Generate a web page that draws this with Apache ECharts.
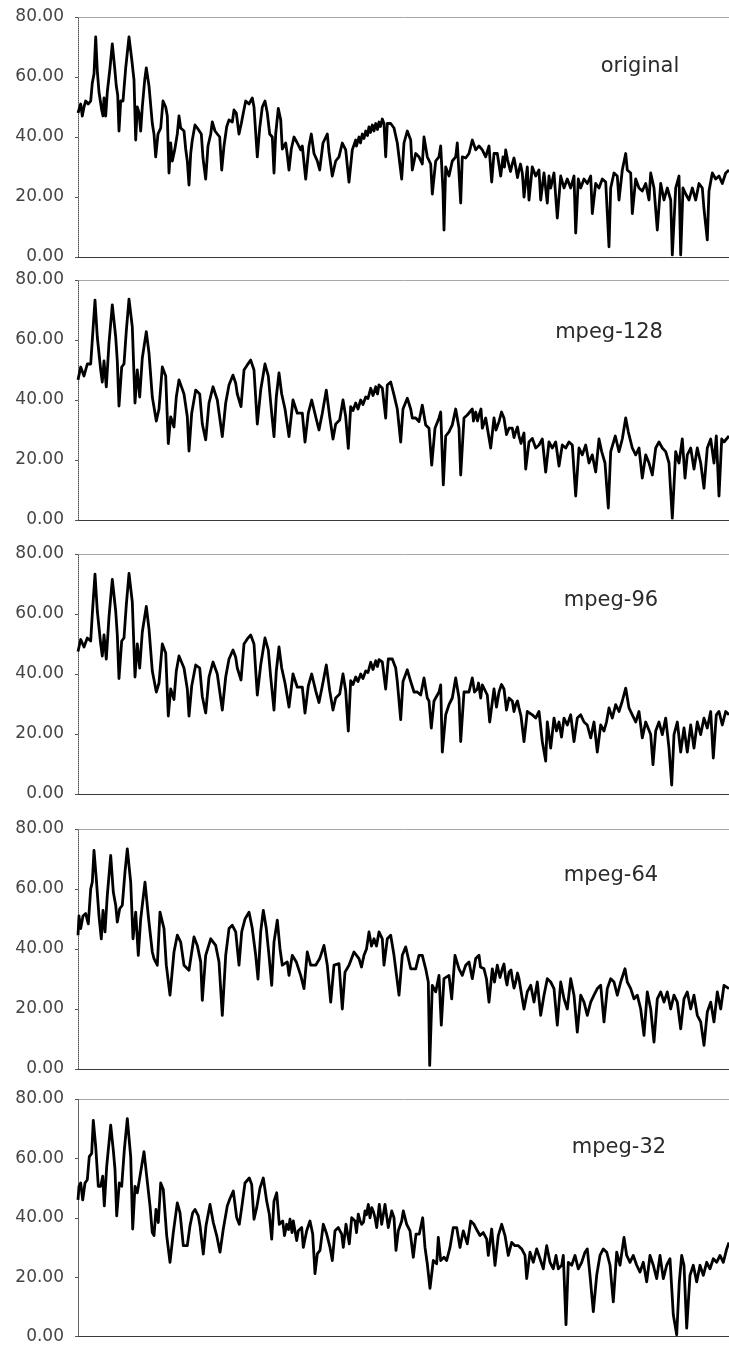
<!DOCTYPE html>
<html>
<head>
<meta charset="utf-8">
<script src="https://cdn.jsdelivr.net/npm/echarts@6/dist/echarts.min.js"></script>
<style>
html,body{margin:0;padding:0;background:#fff;}
#chart{width:729px;height:1345px;}
</style>
</head>
<body>
<div id="chart"></div>
<script>
// panel names
const panelNames = ['original', 'mpeg-128', 'mpeg-96', 'mpeg-64', 'mpeg-32'];
const yTicks = [0, 20, 40, 60, 80];

// ---- original ----
const binsOriginal = [0,2.7,4.3,6,7.7,10.3,12.7,14.3,16,17.7,19.3,21,23.7,25,26,27.7,29.3,32,34.3,36.7,38.3,39.7,41,42.7,45,47.7,51,53.7,56,57.7,59.3,61,62.7,64.3,66.7,68.3,71,74.3,76,77.7,80,82.7,85,87.7,89.3,91,92.7,94.3,96.7,99.3,101,102.7,106,107.7,109.3,111,112.7,114.3,117,119.3,121,123.3,125,127.7,130,132.7,134.3,137,139.3,141.7,143.7,146,148.7,151,154.3,156,158.3,161,163.3,165.3,167.7,171,174.3,176,179.3,181.7,184.3,187,189.3,191.7,194.3,196,197.7,200.3,202.7,204.3,207.7,209.3,211,213.3,216,219.3,222.7,224.3,227.7,231,233.3,236,239.3,241.7,245,249.3,251,254.3,257.7,261,264.3,267.7,271,274.3,277.7,281,284.3,287.7,291,294.3,297.7,301,304.3,307.7,309.3,312.7,316,319.3,321,323.7,326,329.3,332.7,334.3,337.7,341,344.3,346,349.3,352.7,354.3,357.7,361,362.7,365,366,367.7,371,374.3,377.7,379.3,382.7,384.3,387.7,391,394.3,397.7,401,404.3,407.7,411,413.7,416,419.3,422.7,425,427.7,431,434.3,437.7,441,444.3,446,449.3,451,454.3,457.7,461,462.7,466,469.3,471,472.7,476,479.3,482.7,486,489.3,492.7,496,497.7,500.3,502.7,506,509.3,512.7,514.3,517.7,521,524.3,527.7,531,532.7,536,539.3,541,544.3,547.7,549.3,552.7,554.3,557.7,561,564.3,567.7,571,572.7,576,579.3,582.7,586,589.3,592.7,594.3,597.7,601,602.7,605,607.7,611,614.3,617.7,621,624.3,626,629.3,631,634.3,637.7,641,644.3,647.7,651];
const valsOriginal = [48,51,47,50,52,51,52,58,61,73.4,62,55,49,47,53,47,55,63,71,63,57,54,42,52,52,63,73.4,66,59,39,50,48,42,50,59,63,57,44.5,41,33.4,41,43,52,50,47,28,38,32,35.7,41,47,43,42,36,32,24,34.5,39,44,43,43,41,33,26,37,41,45,42,41,40,29,37,43.4,45.7,45,49,48,41,44.5,48,52,51,53,50,33.4,43,50,52,48,41,40,28,41,49.5,45.7,36,38,34,29,36,40,38,35.7,37,26,37,41,34.5,32,29,38,41,35,27,32,33.4,38,35.7,25,35.7,39,40,41,42,43.4,44,44.5,45,46,33.4,44.5,44.5,43,38,38,26,38,42,39,29,34.5,33.4,31,40,33.4,31,21,32,33.4,37,22,9,30,27,32,33.4,38,18,33.4,33,34.5,39,35.7,37,35.7,33.4,37,25,34.5,34.5,27,33.4,35.7,32,31,30,29,28,20,30,19,30,27,29,19,28,18,27,23,28,13,27,23,26,23,27,8,26,23,26,24.5,27,14.5,24.5,23,26,25,3.4,23,28,27,19,29,34.5,29,28,14.5,26,23,22,24.5,19,28,23,9,24.5,19,23,19,0.7,23,27,0.7,23,21,19,23,19,24.5,23,16,5.7,22,28,26,27,24.5,28,29];
// lower edge of the noisy band, read where the trace is thick
const binsOriginalBand = [278.5,282.5,286,289.5,292.5,296,299.5,302.5,306,426.5,429.5,432.5,436,439.5,442.5,445];
const valsOriginalBand = [37,38,39.5,40.5,41.5,42,42.5,43.5,44.5,30,32.5,28.5,33,26.5,31,25];

// ---- mpeg-128 ----
const binsMpeg128 = [0,2.7,6,9.3,12.7,14.3,17,19.3,22.7,24.3,26,28.3,31,34.3,37.7,39.3,41,43.7,46,48.3,51,54.3,57,59.3,61.7,64.3,68.3,71,74.3,78.3,81,84.3,87.7,90.3,92.7,96,98.3,101,106,109.3,111,113.7,117.7,121.7,124.3,127.7,131,135,139.3,144.3,147.7,151,155,157.7,159.3,163,166,169.3,172.7,176,179.3,182.7,187,190.3,192.7,196,198.3,201,203.7,207,211,215,219.3,224.3,227,230.3,233.7,237.7,241,244.3,248.3,251.7,255,257.7,261.7,265,267.7,270.3,272.7,277.7,282.7,287.7,292.7,297.7,301,304.3,307.7,309.3,312.7,316,319.3,322.7,325,329.3,332.7,334.3,337.7,341,344.3,347.7,351,353.7,357,361,362.7,365.3,367.7,371,374.3,377.7,381,382.7,386,389.3,394.3,397.7,401,404.3,407.7,412.7,416,421,426,431,434.3,437.7,441,444.3,447.7,451,454.3,457.7,461,464.3,467.7,471,474.3,477.7,481,484.3,487.7,491,494.3,497.7,501,504.3,507.7,511,514.3,517.7,521,523.7,527,530.3,532.7,537.3,541,544.3,547.7,550.3,554.3,557.7,561,564.3,567.7,571,574.3,577.7,581,584.3,587.7,591,594.3,597.7,601,604.3,607,609.3,612.7,616,619.3,622.7,626,629.3,632.7,636,638.3,641,643.7,646,651];
const valsMpeg128 = [46.7,51,48,52,52,60,73.3,61,50,46,53,44.4,59,71.7,61,53,38,51,52,63,73.6,64.4,39,50,41,54,62.8,55.6,41,33,37,51,48,25.5,34.4,31,41,46.7,42,34.4,23,35.6,43.3,42,32,26.7,39,44.4,40,27.8,39,45,48.3,45.6,42,37.8,50,51.7,53.3,50,32,43.3,52,48,39,27.8,41,49,42,37,27.8,40,35.6,35.6,26,35.6,40,34.4,30,35.6,43.3,34.4,27,32,33.3,40,34.4,23.9,37.8,39,40,41,43.9,44.4,45,44,34,45,46,41.7,37,26,37,40.6,37,34,34,32.8,38.3,31.7,30.6,18.3,30.6,34,36,11.7,28,29.4,31.7,37,30.6,15,34,35,37,36,35,30.6,34,24,34,32.8,34,30.6,30.6,29.4,28,27.2,17,26,27.2,24,25,27,16,26,24,26,18,25,24,26,25,8,24,21.7,25,19,21.7,16,27,22.8,19,4,22.8,28,22.8,27,34,29.4,24,21.7,24,14,21.7,19,15,24,26,24,22.8,19,0.6,22.8,19,27,14,21.7,24,17,24,19,10.6,24,27,19,28,8,27,26,28];
const binsMpeg128Band = [275,280,285,290,295,299.5,395.5,399.5,403,418,423.5,428.5,436,439.5,443,446];
const valsMpeg128Band = [36.5,37,38.5,40.5,41.5,42,33,33,37,30,36,28.5,27.5,31,25.5,29];

// ---- mpeg-96 ----
const binsMpeg96 = [0,2.7,6,9.3,12.7,14.3,17,19.3,22.7,24.3,26,28.3,31,34.3,37.7,39.3,41,43.7,46,48.3,51,54.3,57,59.3,61.7,64.3,68.3,71,74.3,78.3,81,84.3,87.7,90.3,92.7,96,98.3,101,106,109.3,111,113.7,117.7,121.7,124.3,127.7,131,135,139.3,144.3,147.7,151,155,157.7,159.3,163,166,169.3,172.7,176,179.3,182.7,187,190.3,192.7,196,198.3,201,203.7,207,211,215,219.3,224.3,227,230.3,233.7,237.7,241,244.3,248.3,251.7,255,257.7,261.7,265,267.7,270.3,272.7,277.7,282.7,287.7,292.7,297.7,301,304.3,307.7,310.3,314.3,317.7,319.3,322.7,325,329.3,332.7,336,339.3,342.7,346,349.3,351,353.3,356,361,362.7,364.3,367.7,371,374.3,377.7,381,382.7,386,391,394.3,399.3,402.7,404.3,409.3,411.7,416,421,426,431,434.3,437.7,441,446,449.3,454.3,457.7,461,464.3,467.7,469.3,472.7,476,481,486,489.3,492.7,496,499.3,502.7,506,509.3,512.7,516,519.3,522.7,526,531,534.3,537.7,541,544.3,547.7,551,554.3,557.7,561,564.3,567.7,572.7,575,577.7,581,584.3,587.7,591,593.7,596,599.3,602.7,606,609.3,612.7,616,619.3,622.7,626,629.3,632.7,635.3,638.3,641,644.3,647.7,651];
const valsMpeg96 = [47.5,51.5,49,52,51,60,73.3,61,50,46,53,45,59,71.5,61,53,38.5,51,52,63,73.5,64,39,50,42,54,62.5,55,41,34,37,50,47,26,35,31.5,41,46,42,35,26,36,43,42,32.5,27,39,44,40,28,39,45,48,45.6,42,38,50,51.7,53,50,33,43,52,48,39,28,41,49,42,37,29,40,35.6,35.6,27,36,40,34.4,30.5,36,43,34.4,28,32,33.3,40,34.4,21,37.8,39,40,41,43.9,44.4,44.8,44,35,45,45,42,37.5,24.8,37.5,41.4,37.5,34,34,33,38.7,32,31,22,31,34,36.4,14,26.4,29.8,32,38.7,32,17.5,34,34,38.7,35,32,36.4,33,24,35,34,35,32,31,29.8,28.7,17.5,27.5,26.4,25.3,27.5,17.5,11,24,15.3,25.3,24,25.3,23,26.4,17.5,25.3,26.4,24,23,18.7,24,14,23,21,28.7,25.3,29.8,27.5,31,35.3,28.7,26.4,24,27.5,18.7,24,19.8,9.8,21,24,19.8,25.3,15.3,3,19.8,24,14,22,14,23,15.3,24,19.8,25.3,22,27.5,12,26.4,27.5,23,27.5,26.4];
const binsMpeg96Band = [275,280,285,290,295,299.5,396.5,400.5,418.5,423.5,428.5,436,439.5,443,478.5,483.5,528.5];
const valsMpeg96Band = [36.5,37.5,38.5,40.5,41.5,42.5,34,37,29,36.5,28,27.5,31,26,21,19,24];

// ---- mpeg-64 ----
const binsMpeg64 = [0,1,2.7,5,7.7,10.3,12.7,14.3,16,18.3,21,23.3,25,27,29.3,32.7,35.3,37.7,39.3,41.7,44.3,47,49.3,52.7,55,57.7,60.3,62.7,67,70.3,74.3,76,79.3,82,86,88.3,92,96,99.3,102.7,106,111,116,119.3,122.7,124.3,127.7,132.7,137.7,141,144.3,147.7,151,154.3,157.7,161,163.7,167,171,174.3,177.7,180,182.7,185.3,188.3,191,193.7,196,199.3,202,204.3,209.3,211,214.3,218.3,222.7,226,229.3,232.7,237.7,241.7,246,249.3,252.7,256,261,264.3,267,271,276,281,286,291,296,301,304.3,306,309.3,312.7,316,321,324.3,327.7,332.7,337.7,341,344.3,347.7,350.3,351.7,354.3,357.7,361,363.3,366,371,373.7,377,381,384.3,387.7,391,394.3,397.7,401,406,411,414.3,419.3,424.3,427.7,431,434.3,437.7,441,446,449.3,452.7,456,459.3,462.7,466,469.3,472.7,476,479.3,482.7,486,489.3,492.7,496,499.3,502.7,506,509.3,512.7,516,519.3,522.7,526,529.3,532.7,536,539.3,542.7,547,549.3,552.7,556,559.3,562.7,566,569.3,572.7,576,579.3,582.7,586,589.3,592.7,596,599.3,602.7,606,609.3,612.7,616,619.3,622.7,626,629.3,632.7,636,639.3,642.7,646,651];
const valsMpeg64 = [44.6,51,46.8,51,51.8,48.4,60,62.3,72.9,63.4,51,43.4,52.9,45.7,57.9,71.2,59,54.6,49,53.4,54.6,65.7,73.4,62.3,43.4,52.3,37.9,50,62.3,51,39,36.8,34.6,52.3,46.8,34.6,24.6,39,44.6,42.3,34.6,32.9,44,41.2,35.7,22.9,37.9,43.4,41.2,35.7,17.9,37.9,46.8,47.9,45.7,34.6,45.7,50,52.3,46.8,37.9,30,45.7,52.9,46.8,37.9,27.9,42.3,49.6,40.1,34.6,35.7,31.2,37.9,35.7,31.2,26.8,39,34.6,34.6,36.8,41.2,34.6,22.3,34.6,35.1,20,32.3,34.6,39,36.8,37.9,45.7,43.4,45.7,43.4,34.6,43.4,44.6,37.9,24.6,37.9,40.7,33.4,33.4,37.9,37.9,33.4,29,1.2,27.9,25.7,31.2,14.6,30.1,31.2,23.4,37.9,33.4,31.2,34.6,35.7,30.1,36.8,37.9,33.4,22.3,33.4,34.6,33.4,30.1,32.3,30.1,29,30.1,20,25.7,27.9,22.3,29,17.9,24.6,30.1,29,26.8,14.6,29,23.4,20,30.1,24.6,12.3,24.6,22.3,17.9,22.3,24.6,26.8,27.9,15.7,26.8,30.1,29,24.6,29,33.4,29,26.8,23.4,24.6,20,11.2,25.7,20,9,23.4,25.7,22.3,25.7,20,24.6,22.3,13.4,23.4,25.7,20,24.6,17.9,15.7,7.9,19,22.3,15.7,25.7,20,27.9,26.8];
const binsMpeg64Band = [283.5,288.5,293.5,298.5,402.5,408.5,416.5,422,426,429,433,436,439.5,443];
const valsMpeg64Band = [34,40,41,41,34,30,29,30.5,35,28,33,27,32,26];

// ---- mpeg-32 ----
const binsMpeg32 = [0,1,2.7,4.7,7,9.3,11.3,13.7,15.3,17.7,20.3,22.7,24.7,26.3,28.7,32.7,35.3,37,38.7,41.3,43.7,46.3,49.3,52.7,54.7,57,59.3,62,66,68.7,72,74.3,76,78,80.3,82.7,85.3,88.7,92,95.3,99.3,102,105.3,109.3,112,114.7,117,120.3,122,125.3,128,132,135.3,138.7,142,145.3,149.3,152,155.3,158.7,161.3,163.7,167,171.3,173.7,176,178.7,182,185.3,188.7,191.3,193.7,196,198.7,201.3,204.7,208.7,212,215.3,218.7,220.3,223.7,225.3,228.7,232,234.7,237,239.3,242,245.3,248.7,252,254.3,257,260.3,263.7,265.3,268,271.3,273.7,277,280.3,283.7,287,290.3,293.7,297,298.7,301.3,303.7,307,310.3,313.7,316,318,320.3,323.7,325.3,328.7,332,335.3,338,341.3,344.7,347,349.3,352,355.3,358.7,360.3,362.7,366,368.7,372,375.3,378.7,382,385.3,389.3,392.7,396,399.3,402,405.3,408.7,410.3,413.7,417,420.3,423.7,427,430.3,433.7,437,440.3,443.7,447,448.7,452,455.3,458.7,462,465.3,468.7,472,475.3,478,480.3,483.7,485.3,488,490.3,493.7,497,500.3,503.7,507,509.3,512,515.3,518.7,522,525.3,528.7,532,535.3,538.7,542,546,548.7,552,555.3,558.7,562,565.3,568.7,572,575.3,578.7,582,585.3,588.7,592,595.3,598.7,601.3,603.7,606,608.7,612,615.3,618.7,622,625.3,628.7,632,635.3,638.7,642,645.3,648.7,651];
const valsMpeg32 = [46,50.6,51.7,46,51.7,52.8,60.6,61.7,72.8,64,50.6,50.6,54,44,57.3,71.2,62.8,56.2,40.6,51.7,50.6,62.8,73.4,60.6,36.2,50.6,48.4,54,62.3,54,44,35,34,42.8,38.4,51.7,49.5,34,25,35,45,41.7,30.6,30.6,37.3,41.7,42.8,40.6,37.3,27.8,37.3,44.5,38.4,34,28.4,36.2,44,46.5,49,40,37.8,43.4,51.7,53.4,51.2,39.5,43.4,50,53.4,45.6,41.2,32.8,45.6,48.4,37.8,38.9,37.8,39.5,38.9,32.3,35.6,36.7,30,35.6,38.9,34.5,21.2,27.8,29,37.8,34.5,30,25.6,35.6,36.7,34.5,30,37.8,31.2,40,38.9,41.2,37.8,42.3,44.5,43.4,40,36.7,44.5,37.8,44.5,36.7,42.3,40,29,35.6,38.9,42.3,37.8,35.6,26.7,34.5,34.5,40,30,24.5,16.2,25.6,24.5,33.4,25.6,26.7,25.6,30,36.7,36.7,30,35.6,31.2,38.9,37.8,35.6,34,35,32.8,27.3,36.2,24,34,37.8,34,27.3,31.7,30.6,30.6,29.5,27.3,19.5,28.4,25,29.5,26.2,22.8,30.6,25,22.8,27.3,22.8,24,27.3,4,25,24,27.3,22.8,25,28.4,29.5,20.6,8.4,20.6,27.3,29.5,28.4,24,11.7,28.4,24,33.4,27.3,25,27.3,24,21.7,25,18.4,27.3,24,19.5,27.3,19.5,24,26.2,7.3,0.6,18.4,27.3,24,2.8,20.6,24,18.4,24,20.6,25,22.8,26.2,25,27.3,25,29.5,31.7];
const binsMpeg32Band = [206.5,210.5,214,278.5,282,285.5,288.5,292,295.5];
const valsMpeg32Band = [34,36,35,35,39,38.5,41,40,42];

const allBins = [binsOriginal, binsMpeg128, binsMpeg96, binsMpeg64, binsMpeg32];
const allVals = [valsOriginal, valsMpeg128, valsMpeg96, valsMpeg64, valsMpeg32];
const allBandBins = [binsOriginalBand, binsMpeg128Band, binsMpeg96Band, binsMpeg64Band, binsMpeg32Band];
const allBandVals = [valsOriginalBand, valsMpeg128Band, valsMpeg96Band, valsMpeg64Band, valsMpeg32Band];

// layout
const panelTops = [17, 280, 554, 829, 1099];
const panelHeights = [240, 240, 240, 240, 239];
const labelPos = [[640, 67], [609, 333], [611, 601], [611, 876], [619, 1148]];

const chart = echarts.init(document.getElementById('chart'), null, {renderer: 'canvas'});

const grids = [], xAxes = [], yAxes = [], series = [], graphics = [];
for (let i = 0; i < 5; i++) {
  grids.push({left: 78, right: 0, top: panelTops[i], height: panelHeights[i], containLabel: false});
  xAxes.push({
    type: 'value', gridIndex: i, min: 0, max: 651,
    axisLine: {show: true, onZero: false, lineStyle: {color: '#3a3a3a', width: 1.2}},
    axisTick: {show: false}, axisLabel: {show: false}, splitLine: {show: false}
  });
  yAxes.push({
    type: 'value', gridIndex: i, min: yTicks[0], max: yTicks[yTicks.length - 1], interval: 20,
    axisLine: {show: true, lineStyle: {color: '#555', width: 1, type: 'dotted'}},
    axisTick: {show: true, length: 3, lineStyle: {color: '#555'}},
    axisLabel: {
      formatter: v => v.toFixed(2), margin: 14,
      fontFamily: 'DejaVu Sans', fontSize: 17, color: '#444'
    },
    splitLine: {show: true, lineStyle: {color: ['rgba(0,0,0,0)', 'rgba(0,0,0,0)', 'rgba(0,0,0,0)', 'rgba(0,0,0,0)', '#a8a8a8'], width: 1}}
  });
  const pts = allBins[i].map((b, k) => [b, allVals[i][k]])
    .concat(allBandBins[i].map((b, k) => [b, allBandVals[i][k]]))
    .sort((a, b) => a[0] - b[0]);
  series.push({
    type: 'line', xAxisIndex: i, yAxisIndex: i,
    data: pts,
    showSymbol: false, symbol: 'none', smooth: false,
    lineStyle: {color: '#000', width: 2.8, join: 'round'},
    animation: false, silent: true
  });
  graphics.push({
    type: 'text', x: labelPos[i][0], y: labelPos[i][1],
    style: {text: panelNames[i], fontFamily: 'DejaVu Sans', fontSize: 21, fill: '#2a2a2a',
      textAlign: 'center', textVerticalAlign: 'middle'}
  });
}

chart.setOption({
  animation: false,
  backgroundColor: '#fff',
  grid: grids, xAxis: xAxes, yAxis: yAxes, series: series, graphic: graphics
});
</script>
</body>
</html>
